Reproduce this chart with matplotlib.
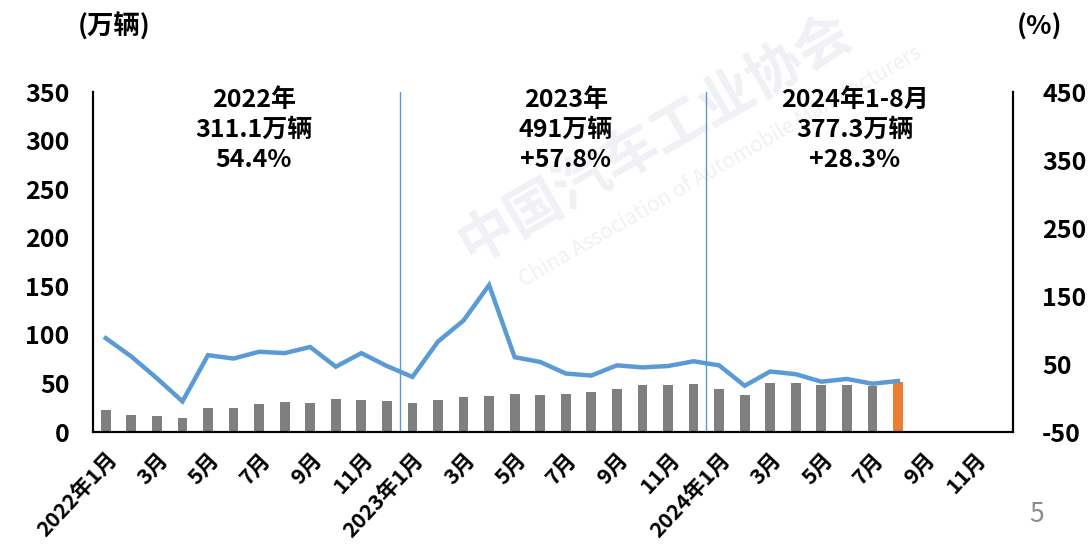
import matplotlib
matplotlib.use("Agg")
import matplotlib.pyplot as plt
import numpy as np

plt.rcParams['font.family'] = ['Noto Sans CJK SC', 'DejaVu Sans']
plt.rcParams['axes.unicode_minus'] = False

# 36 monthly categories 2022-01 .. 2024-12
month_labels = []
for y in (2022, 2023, 2024):
    for m in range(1, 13):
        month_labels.append(f"{y}年{m}月" if m == 1 else f"{m}月")

# monthly volume (万辆), Jan 2022 - Aug 2024
volume = [22.6, 17.5, 16.0, 14.4, 24.4, 24.4, 28.6, 31.0, 30.0, 34.0, 33.0, 32.0,
          30.0, 33.0, 36.0, 37.0, 39.0, 38.0, 39.0, 41.0, 44.5, 48.0, 48.0, 49.5,
          44.5, 38.0, 50.5, 50.5, 48.0, 48.0, 47.5, 51.5]
# year-on-year growth (%)
growth = [88, 61, 29, -5, 63, 58, 68, 66, 75, 46, 66, 47,
          31, 83, 114, 166, 60, 53, 36, 33, 48, 45, 47, 54,
          48, 18, 39, 35, 24, 28, 21, 25]

year_titles = ["2022年\n311.1万辆\n54.4%", "2023年\n491万辆\n+57.8%", "2024年1-8月\n377.3万辆\n+28.3%"]

fig = plt.figure(figsize=(10.91, 5.55), dpi=100)

# faint watermark (behind everything)
fig.text(0.60, 0.75, "中国汽车工业协会", fontsize=40, color='#F0F1F4', rotation=30,
         ha='center', va='center', fontweight='bold', zorder=-5)
fig.text(0.66, 0.70, "China Association of Automobile Manufacturers", fontsize=15,
         color='#F0F1F4', rotation=30, ha='center', va='center', zorder=-5)

ax = fig.add_axes([93/1091, 123/555, 920/1091, 340/555])
ax.patch.set_alpha(0)
ax2 = ax.twinx()
ax2.patch.set_alpha(0)

n = len(month_labels)
x = np.arange(len(volume))
colors = ['#7F7F7F'] * (len(volume) - 1) + ['#ED7D31']
ax.bar(x, volume, width=0.38, color=colors, zorder=2)
ax.set_xlim(-0.5, n - 0.5)
ax.set_ylim(0, 350)
ax.set_yticks(np.arange(0, 351, 50))

ax2.plot(x, growth, color='#5B9BD5', lw=3.2, solid_joinstyle='miter', zorder=3)
ax2.set_ylim(-50, 450)
ax2.set_yticks(np.arange(-50, 451, 100))

for a in (ax, ax2):
    a.spines['top'].set_visible(False)
    a.tick_params(length=0)
    for s in ('left', 'bottom', 'right'):
        a.spines[s].set_linewidth(1.5)
        a.spines[s].set_color('black')

ax.tick_params(axis='y', pad=17)
ax2.tick_params(axis='y', pad=21)
for lbl in ax.get_yticklabels() + ax2.get_yticklabels():
    lbl.set_fontsize(18)
    lbl.set_fontweight('bold')

ticks = list(range(0, n, 2))
ax.set_xticks(ticks)
ax.set_xticklabels([month_labels[i] for i in ticks], rotation=47, ha='right',
                   va='top', rotation_mode='anchor', fontsize=15.5, fontweight='bold')
ax.tick_params(axis='x', pad=12)

# year separators
for b in (11.5, 23.5):
    ax.axvline(b, color='#5B9BD5', lw=1.0, zorder=1)

centers = [5.8, 18.0, 29.3]
for cx, t in zip(centers, year_titles):
    ax.text(cx, 354, t, ha='center', va='top', fontsize=18, fontweight='bold',
            linespacing=1.3, zorder=10)

fig.text(78/1091, 1 - 27/555, "(万辆)", fontsize=19, fontweight='bold', va='center', ha='left')
fig.text(1017/1091, 1 - 27/555, "(%)", fontsize=19, fontweight='bold', va='center', ha='left')
fig.text(1037/1091, 1 - 515/555, "5", fontsize=19, color='#8C8C8C', va='center', ha='center')

fig.savefig("out.png", dpi=100)
